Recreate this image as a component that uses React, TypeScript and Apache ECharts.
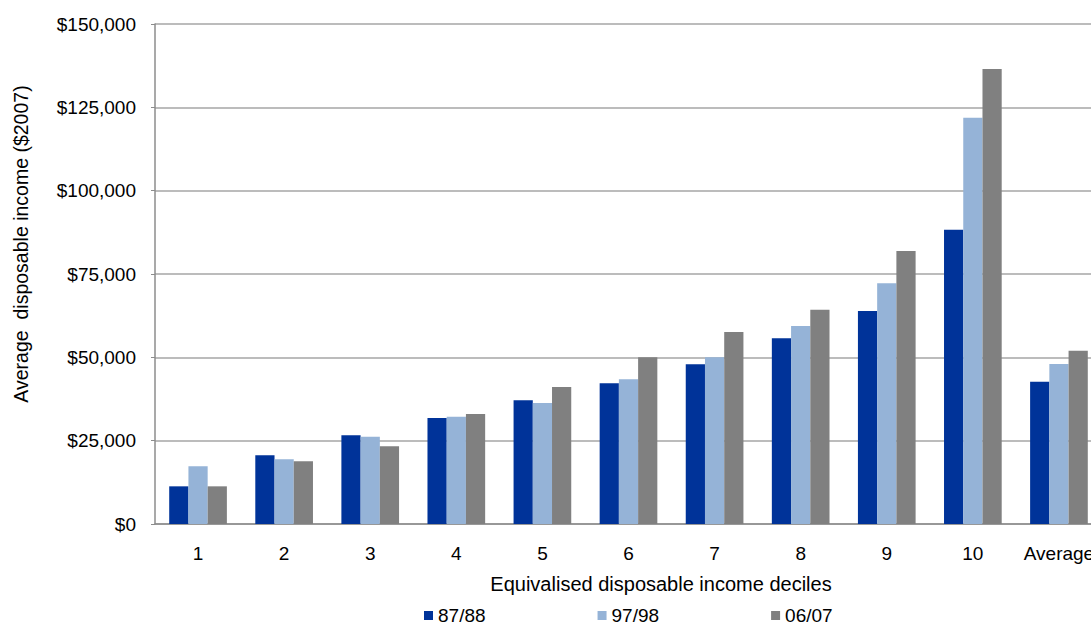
import React, { useEffect, useRef } from "react";
import * as echarts from "echarts";

const categories = ["1", "2", "3", "4", "5", "6", "7", "8", "9", "10", "Average"];
const seriesNames = ["87/88", "97/98", "06/07"];
const values8788 = [11300, 20600, 26600, 31800, 37100, 42200, 47900, 55700, 63900, 88300, 42700];
const values9798 = [17300, 19400, 26200, 32200, 36300, 43400, 50000, 59400, 72200, 121900, 48000];
const values0607 = [11300, 18800, 23300, 33000, 41100, 50000, 57600, 64300, 81900, 136500, 52000];
const yTicks = [0, 25000, 50000, 75000, 100000, 125000, 150000];
const yAxisTitle = "Average  disposable income ($2007)";
const xAxisTitle = "Equivalised disposable income deciles";

const colors = ["#003399", "#95B3D7", "#808080"];
const FONT = "'Liberation Sans', Arial, sans-serif";

export default function App() {
  const ref = useRef<HTMLDivElement>(null);
  useEffect(() => {
    if (!ref.current) return;
    const chart = echarts.init(ref.current, undefined, { renderer: "svg" });
    const data = [values8788, values9798, values0607];
    chart.setOption({
      animation: false,
      backgroundColor: "#ffffff",
      textStyle: { fontFamily: FONT },
      grid: { left: 155, top: 24, bottom: 102, right: 0, containLabel: false },
      legend: {
        data: seriesNames,
        left: 424,
        top: 606,
        padding: 0,
        icon: "rect",
        itemWidth: 9,
        itemHeight: 9,
        itemGap: 112,
        textStyle: { fontSize: 19, color: "#000", fontFamily: FONT },
      },
      xAxis: {
        type: "category",
        data: categories,
        axisLine: { show: true, lineStyle: { color: "#8c8c8c", width: 1.5 } },
        axisTick: { show: false },
        axisLabel: { color: "#000", fontSize: 19, margin: 20, fontFamily: FONT, interval: 0 },
        splitLine: { show: false },
      },
      yAxis: {
        type: "value",
        min: yTicks[0],
        max: yTicks[yTicks.length - 1],
        interval: 25000,
        axisLine: { show: true, lineStyle: { color: "#8c8c8c", width: 1.5 } },
        axisTick: { show: true, length: 4, lineStyle: { color: "#8c8c8c" } },
        axisLabel: {
          color: "#000",
          fontSize: 19,
          margin: 19,
          fontFamily: FONT,
          formatter: (v: number) => "$" + v.toLocaleString("en-US"),
        },
        splitLine: { show: true, lineStyle: { color: "#a6a6a6", width: 1.5 } },
      },
      graphic: [
        {
          type: "text",
          x: 21,
          y: 244,
          rotation: Math.PI / 2,
          style: {
            text: yAxisTitle,
            fontSize: 19.5,
            fontFamily: FONT,
            fill: "#000",
            textAlign: "center",
            textVerticalAlign: "middle",
          },
        },
        {
          type: "text",
          x: 661,
          y: 584,
          style: {
            text: xAxisTitle,
            fontSize: 20,
            fontFamily: FONT,
            fill: "#000",
            textAlign: "center",
            textVerticalAlign: "middle",
          },
        },
      ],
      series: seriesNames.map((name, i) => ({
        name,
        type: "bar",
        data: data[i],
        barGap: "0%",
        barCategoryGap: "33%",
        itemStyle: { color: colors[i] },
      })),
    });
    return () => chart.dispose();
  }, []);
  return (
    <div
      style={{ position: "absolute", left: 0, top: 0, width: 1091, height: 626, overflow: "hidden" }}
    >
      <div ref={ref} style={{ width: 1102, height: 626 }} />
    </div>
  );
}
